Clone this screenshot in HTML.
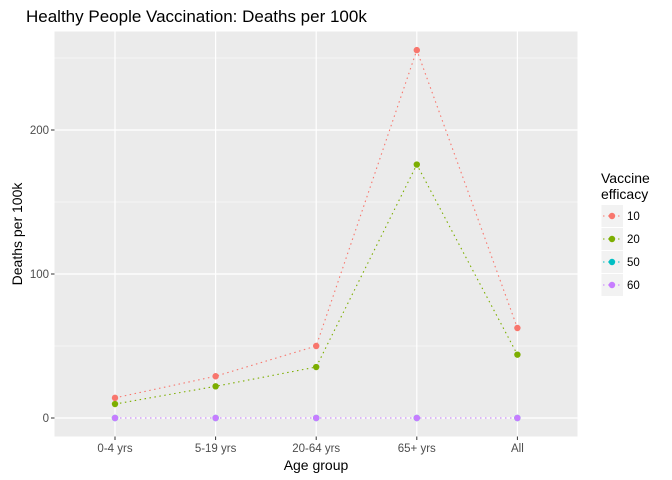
<!DOCTYPE html>
<html><head><meta charset="utf-8"><style>
body{margin:0;background:#fff;}
svg{display:block;font-family:"Liberation Sans",Arial,sans-serif;}
</style></head><body>
<svg id="chart" width="672" height="480" xmlns="http://www.w3.org/2000/svg">
<text x="26" y="22" font-size="17" fill="#000">Healthy People Vaccination: Deaths per 100k</text>
<rect x="54.5" y="31.5" width="523" height="405" fill="#ebebeb"/>
<g id="grid"></g>
<g id="axes"></g>
<g id="series"></g>
<text x="22" y="234" font-size="14" fill="#000" text-anchor="middle" transform="rotate(-90 22 234)">Deaths per 100k</text>
<text x="316" y="470" font-size="14" fill="#000" text-anchor="middle">Age group</text>
<g id="legend">
<text x="601" y="183" font-size="14">Vaccine</text>
<text x="601" y="199" font-size="14">efficacy</text>
</g>
</svg>
<script>
const categories=["0-4 yrs","5-19 yrs","20-64 yrs","65+ yrs","All"];
const seriesNames=["10","20","50","60"];
const s10=[14,29,50,255.5,62.5];
const s20=[9.7,22,35.4,176,44];
const s50=[0,0,0,0,0];
const s60=[0,0,0,0,0];
const yTicks=[0,100,200];
const colors=["#F8766D","#7CAE00","#00BFC4","#C77CFF"];
const NS="http://www.w3.org/2000/svg";
const X=i=>115+i*100.6;
const Y=v=>418-v*1.44;
function mk(tag,attrs,parent){const e=document.createElementNS(NS,tag);for(const k in attrs)e.setAttribute(k,attrs[k]);parent.appendChild(e);return e;}
const grid=document.getElementById('grid'),axes=document.getElementById('axes'),ser=document.getElementById('series'),leg=document.getElementById('legend');
[50,150,250].forEach(v=>{const l=mk('line',{x1:54.5,x2:577.5,y1:Y(v),y2:Y(v),stroke:'#fff','stroke-width':0.6},grid);

});
yTicks.forEach(v=>{const l=mk('line',{x1:54.5,x2:577.5,y1:Y(v),y2:Y(v),stroke:'#fff','stroke-width':1.2},grid);


const t=mk('line',{x1:51,x2:54.5,y1:Y(v),y2:Y(v),stroke:'#333','stroke-width':1},axes);


const tx=mk('text',{x:49,y:Y(v)+4,'font-size':11.5,fill:'#4d4d4d','text-anchor':'end'},axes);tx.textContent=v;

});
categories.forEach((c,i)=>{const l=mk('line',{x1:X(i),x2:X(i),y1:31.5,y2:436.5,stroke:'#fff','stroke-width':1.2},grid);


const t=mk('line',{x1:X(i),x2:X(i),y1:436.5,y2:440,stroke:'#333','stroke-width':1},axes);


const tx=mk('text',{x:X(i),y:452,'font-size':11.5,fill:'#4d4d4d','text-anchor':'middle'},axes);tx.textContent=c;

});
[s10,s20,s50,s60].forEach((d,si)=>{
const p=mk('polyline',{points:d.map((v,i)=>X(i)+','+Y(v)).join(' '),fill:'none',stroke:colors[si],'stroke-width':1.1,'stroke-dasharray':'1.5 3.5'},ser);


d.forEach((v,i)=>{const c=mk('circle',{cx:X(i),cy:Y(v),r:3.2,fill:colors[si]},ser);

});
const ky=216+si*23;
const r=mk('rect',{x:601.5,y:ky-11,width:21.5,height:22,fill:'#f2f2f2'},leg);


mk('line',{x1:603,x2:622,y1:ky,y2:ky,stroke:colors[si],'stroke-width':1.1,'stroke-dasharray':'1.5 3.5'},leg);
mk('circle',{cx:612,cy:ky,r:3.2,fill:colors[si]},leg);
const t=mk('text',{x:627,y:ky+4,'font-size':11.5,fill:'#000'},leg);t.textContent=seriesNames[si];


});
</script>
</body></html>
